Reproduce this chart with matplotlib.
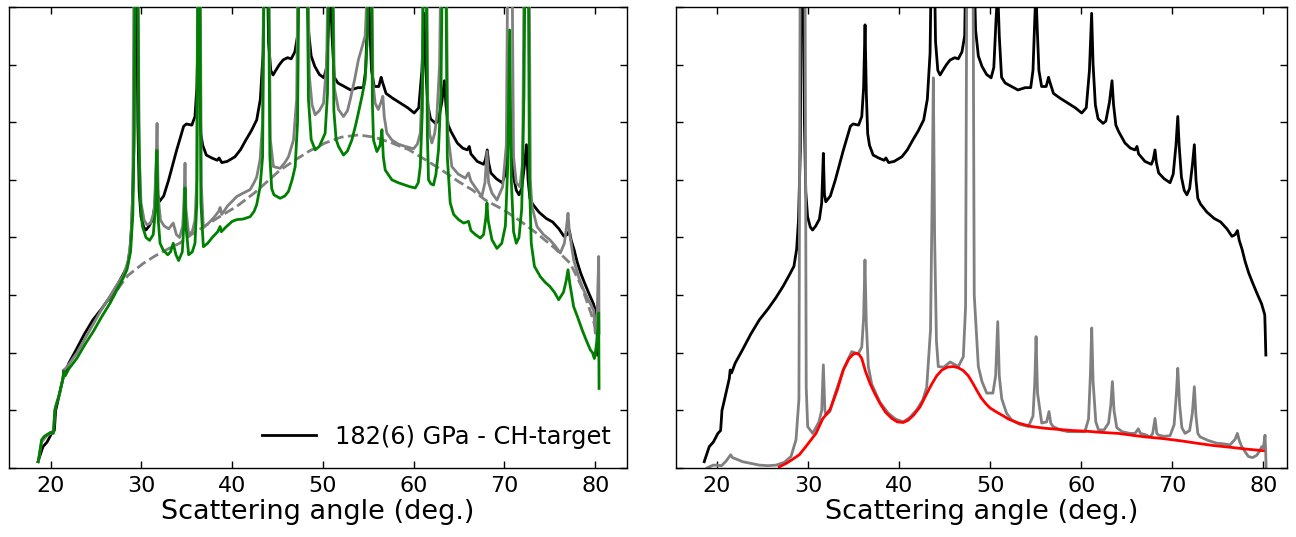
import matplotlib
matplotlib.use("Agg")
import matplotlib.pyplot as plt

# ---- raw pattern (same measurement shown in both panels), black ----
black_x = [18.6, 19.15, 19.6, 20.1, 20.4, 20.55, 20.7, 21.35, 21.45, 21.6, 22.0, 22.8, 23.7, 24.65,
           25.6, 26.45, 27.25, 27.95, 28.45, 28.75, 28.95, 29.15, 29.3, 29.45, 29.6, 29.75, 29.95,
           30.25, 30.5, 30.85, 31.25, 31.5, 31.68, 31.8, 31.95, 32.45, 33.0, 33.85, 34.65, 34.95,
           35.55, 35.9, 36.1, 36.26, 36.4, 36.55, 36.75, 37.15, 37.75, 38.35, 38.55, 38.85, 39.45,
           40.3, 40.9, 41.5, 42.1, 42.7, 43.1, 43.4, 43.6, 43.8, 44.0, 44.25, 44.5, 44.8, 45.2,
           45.6, 46.1, 46.5, 46.9, 47.2, 47.4, 48.1, 48.4, 48.7, 49.1, 49.6, 50.1, 50.4, 50.65,
           50.83, 51.0, 51.25, 51.65, 52.35, 53.05, 53.85, 54.45, 54.7, 54.9, 55.03, 55.15, 55.35,
           55.65, 56.15, 56.41, 56.55, 56.95, 57.65, 58.55, 59.35, 60.05, 60.55, 60.9, 61.14,
           61.3, 61.55, 61.85, 62.4, 62.7, 63.1, 63.38, 63.55, 63.8, 64.1, 64.8, 65.4, 65.9,
           66.12, 66.3, 67.0, 67.7, 67.9, 68.1, 68.25, 68.5, 69.1, 69.75, 70.1, 70.4, 70.6,
           70.75, 71.0, 71.3, 71.6, 71.9, 72.2, 72.42, 72.6, 72.8, 73.1, 73.8, 74.6, 75.3, 76.0,
           76.55, 76.9, 77.15, 77.35, 77.65, 78.0, 78.4, 78.8, 79.3, 79.8, 80.15, 80.2, 80.27]
black_y = [0.11, 0.37, 0.45, 0.6, 0.65, 1.0, 1.1, 1.55, 1.7, 1.65, 1.82, 2.05, 2.32, 2.57,
           2.76, 2.95, 3.15, 3.35, 3.5, 3.8, 4.3, 5.5, 9.5, 9.5, 6.0, 4.8, 4.36,
           4.18, 4.13, 4.2, 4.32, 4.6, 5.46, 4.75, 4.62, 4.72, 5.0, 5.5, 5.93, 5.97,
           5.95, 6.1, 6.6, 7.69, 6.5, 5.8, 5.6, 5.43, 5.38, 5.34, 5.38, 5.3, 5.32,
           5.4, 5.52, 5.69, 5.85, 6.04, 6.4, 7.2, 9.5, 9.5, 7.4, 6.9, 6.82, 6.9, 7.0,
           7.08, 7.12, 7.1, 7.22, 7.5, 9.5, 9.5, 7.6, 7.15, 6.97, 6.83, 6.77, 6.95, 7.8,
           8.3, 7.5, 6.78, 6.68, 6.62, 6.56, 6.6, 6.6, 6.9, 7.8, 8.3, 7.7, 6.9,
           6.62, 6.62, 6.78, 6.7, 6.5, 6.42, 6.33, 6.25, 6.16, 6.25, 6.9, 7.89,
           7.0, 6.3, 6.06, 5.98, 6.02, 6.35, 6.72, 6.3, 5.95, 5.84, 5.64, 5.55, 5.52,
           5.58, 5.45, 5.32, 5.27, 5.35, 5.52, 5.3, 5.12, 5.02, 4.95, 5.1, 5.6, 6.1,
           5.6, 5.05, 4.82, 4.74, 4.85, 5.25, 5.61, 5.0, 4.68, 4.58, 4.44, 4.33, 4.27, 4.15,
           4.02, 4.05, 4.12, 3.95, 3.8, 3.58, 3.38, 3.22, 3.03, 2.85, 2.66, 2.4, 1.96]

# ---- left panel: second pattern (grey) and corrected pattern (green) ----
grey_x = [18.63, 19.0, 19.5, 20.0, 20.3, 20.5, 21.0, 21.4, 21.5, 22.0, 22.9, 23.8, 24.7, 25.6,
          26.54, 27.3, 28.0, 28.56, 28.85, 29.05, 29.2, 29.6, 29.75, 29.95, 30.3, 30.6, 31.0,
          31.4, 31.6, 31.72, 31.85, 32.1, 32.5, 33.0, 33.5, 33.85, 34.2, 34.55, 34.7, 34.8,
          34.9, 35.2, 35.6, 35.9, 36.1, 36.2, 36.45, 36.6, 36.82, 37.4, 38.0, 38.5, 38.67,
          38.85, 39.5, 40.5, 41.2, 41.97, 42.4, 42.7, 43.07, 43.35, 43.5, 44.0, 44.2, 44.54,
          45.28, 45.8, 46.2, 46.75, 47.1, 47.3, 48.3, 48.5, 48.8, 49.14, 49.6, 50.06, 50.4,
          50.65, 51.05, 51.25, 51.71, 52.26, 52.7, 53.0, 53.5, 53.9, 54.3, 54.65, 54.85, 54.95,
          55.35, 55.5, 55.75, 56.1, 56.4, 56.6, 56.75, 57.04, 57.6, 58.3, 59.06, 59.98, 60.4,
          60.72, 60.95, 61.05, 61.4, 61.55, 61.75, 62.0, 62.3, 62.55, 62.85, 63.05, 63.55,
          63.75, 64.2, 64.9, 65.68, 66.04, 66.3, 66.6, 67.0, 67.5, 67.85, 68.07, 68.25, 68.62,
          69.17, 69.8, 70.2, 70.4, 70.8, 71.0, 71.3, 71.7, 72.0, 72.2, 72.7, 72.85, 73.03,
          73.58, 74.3, 75.0, 75.6, 76.15, 76.6, 76.85, 77.0, 77.15, 77.62, 78.2, 78.72, 79.3,
          79.82, 80.0, 80.2, 80.38, 80.42]
grey_y = [0.11, 0.45, 0.55, 0.6, 0.65, 1.05, 1.3, 1.6, 1.7, 1.8, 2.0, 2.25, 2.5, 2.75,
          2.98, 3.18, 3.34, 3.61, 4.0, 4.8, 9.5, 9.5, 5.5, 4.6, 4.3, 4.22, 4.25,
          4.45, 5.2, 5.98, 4.7, 4.3, 4.2, 4.15, 4.25, 4.05, 4.0, 4.2, 4.7, 5.29,
          4.5, 4.06, 4.1, 4.3, 5.0, 9.5, 9.5, 4.9, 4.17, 4.25, 4.35, 4.45, 4.52,
          4.4, 4.55, 4.71, 4.77, 4.83, 4.95, 5.05, 5.35, 6.0, 9.5, 9.5, 5.7, 5.23,
          5.2, 5.3, 5.4, 5.69, 6.4, 9.5, 9.5, 6.8, 6.3, 6.13, 6.2, 6.33, 7.0,
          9.5, 9.5, 6.6, 6.22, 6.1, 6.2, 6.39, 6.75, 7.08, 7.3, 7.5, 8.2, 9.5,
          9.5, 6.7, 6.33, 6.22, 6.35, 6.45, 6.1, 5.81, 5.69, 5.62, 5.58, 5.54, 5.62,
          5.81, 6.7, 9.5, 9.5, 6.4, 5.8, 5.64, 5.8, 6.1, 7.0, 9.5, 9.5,
          5.8, 5.23, 5.1, 5.03, 5.12, 4.98, 4.91, 4.82, 4.71, 4.95, 5.49, 4.95, 4.77,
          4.65, 4.88, 5.6, 9.5, 9.5, 5.4, 4.95, 4.88, 5.3, 9.5, 9.5, 5.0, 4.54,
          4.19, 4.05, 3.96, 3.85, 3.73, 3.9, 4.2, 4.42, 4.1, 3.61, 3.3, 3.09, 2.9,
          2.74, 2.34, 2.6, 3.67, 2.34]

green_x = [18.63, 19.0, 19.3, 19.6, 20.0, 20.3, 20.45, 20.9, 21.35, 21.45, 21.6, 22.0, 22.87,
           23.8, 24.7, 25.6, 26.54, 27.4, 28.0, 28.4, 28.8, 29.05, 29.2, 29.3, 29.55, 29.7,
           29.85, 30.1, 30.5, 30.9, 31.3, 31.55, 31.7, 31.85, 32.05, 32.4, 32.9, 33.2, 33.5,
           33.8, 34.1, 34.5, 34.7, 34.8, 34.9, 35.2, 35.6, 35.9, 36.1, 36.25, 36.4, 36.55,
           36.82, 37.3, 37.8, 38.4, 38.67, 38.8, 39.3, 40.0, 40.5, 41.2, 41.97, 42.4, 42.7,
           43.07, 43.35, 43.55, 43.95, 44.15, 44.35, 44.6, 45.28, 45.8, 46.2, 46.6, 46.94,
           47.2, 47.4, 48.2, 48.4, 48.7, 49.14, 49.6, 50.24, 50.5, 50.7, 51.0, 51.2, 51.45,
           51.71, 52.26, 52.7, 53.18, 53.6, 53.9, 54.3, 54.65, 54.9, 55.05, 55.3, 55.45,
           55.57, 55.94, 56.3, 56.5, 56.65, 56.86, 57.6, 58.3, 59.06, 59.6, 60.17, 60.5,
           60.72, 60.95, 61.1, 61.35, 61.5, 61.63, 61.9, 62.18, 62.45, 62.73, 63.0, 63.2,
           63.5, 63.7, 64.02, 64.4, 64.94, 65.5, 66.04, 66.3, 66.8, 67.33, 67.7, 67.95,
           68.07, 68.2, 68.62, 69.17, 69.7, 70.1, 70.35, 70.57, 70.75, 71.0, 71.3, 71.6,
           71.9, 72.15, 72.3, 72.6, 72.75, 72.95, 73.3, 73.95, 74.5, 75.0, 75.5, 75.97,
           76.5, 76.8, 77.0, 77.2, 77.62, 78.1, 78.55, 79.0, 79.46, 79.7, 79.9, 80.1,
           80.3, 80.38, 80.42]
green_y = [0.11, 0.49, 0.55, 0.58, 0.62, 0.6, 1.0, 1.25, 1.55, 1.68, 1.6, 1.72, 1.9,
           2.15, 2.37, 2.62, 2.86, 3.12, 3.3, 3.44, 3.75, 4.4, 5.8, 9.5, 9.5, 6.0,
           4.7, 4.2, 4.0, 3.95, 4.05, 4.5, 5.51, 4.3, 3.9, 3.78, 3.7, 3.75, 3.9,
           3.7, 3.6, 3.75, 4.3, 4.86, 4.2, 3.7, 3.75, 3.9, 4.6, 9.5, 9.5, 4.6,
           3.84, 3.9, 4.0, 4.1, 4.19, 4.1, 4.18, 4.28, 4.31, 4.32, 4.36, 4.45, 4.57,
           4.88, 5.4, 9.5, 9.5, 5.4, 4.85, 4.74, 4.68, 4.72, 4.8, 5.0, 5.23,
           6.0, 9.5, 9.5, 6.4, 5.7, 5.52, 5.58, 5.81, 6.5, 9.5, 9.5, 6.2, 5.7,
           5.58, 5.43, 5.5, 5.69, 5.95, 6.16, 6.45, 6.74, 7.5, 9.5, 9.5, 6.3,
           5.69, 5.49, 5.6, 5.87, 5.4, 5.17, 5.0, 4.95, 4.91, 4.88, 4.86, 4.95,
           5.23, 6.2, 9.5, 9.5, 5.8, 5.0, 4.93, 4.91, 5.1, 5.52, 6.5, 9.5,
           9.5, 5.4, 4.6, 4.4, 4.31, 4.25, 4.28, 4.12, 4.05, 3.99, 4.05, 4.35,
           4.6, 4.3, 3.96, 3.81, 3.9, 4.2, 5.2, 7.6, 5.0, 4.1, 3.9, 4.0,
           4.5, 6.5, 9.5, 9.5, 5.0, 3.9, 3.5, 3.32, 3.22, 3.15, 3.05, 2.92,
           3.05, 3.25, 3.44, 3.2, 2.8, 2.6, 2.4, 2.22, 2.05, 2.0, 1.9, 2.1,
           2.4, 2.69, 1.38]

# dashed background estimate
bg_x = [26.5, 27.6, 28.5, 30.2, 31.5, 33.15, 34.2, 35.5, 37.0, 38.5, 40.5, 42.5, 45.28, 47.0,
        48.5, 50.24, 52.0, 53.9, 55.7, 57.6, 59.5, 61.27, 63.0, 64.94, 66.5, 67.88, 69.9, 71.8,
        73.58, 75.5, 77.25, 78.5, 79.5, 80.3]
bg_y = [2.88, 3.15, 3.34, 3.55, 3.68, 3.82, 3.9, 4.05, 4.2, 4.35, 4.54, 4.78, 5.17, 5.35,
        5.5, 5.64, 5.74, 5.78, 5.74, 5.64, 5.52, 5.35, 5.18, 4.97, 4.82, 4.65, 4.48, 4.28,
        4.07, 3.82, 3.55, 3.15, 2.7, 2.3]

# ---- right panel: background-subtracted pattern (grey) and its liquid fit (red) ----
sub_x = [18.9, 19.15, 19.6, 20.0, 20.5, 21.0, 21.5, 21.7, 22.2, 22.8, 23.7, 24.65, 25.6, 26.5,
         27.4, 28.13, 28.68, 29.0, 29.15, 29.65, 29.8, 29.96, 30.51, 31.2, 31.5, 31.68, 31.85,
         31.97, 32.4, 33.0, 33.9, 34.8, 35.5, 35.9, 36.1, 36.25, 36.4, 36.62, 37.0, 37.9,
         38.82, 39.6, 40.46, 41.2, 41.93, 42.6, 43.03, 43.45, 43.65, 43.76, 43.9, 44.1, 44.3,
         44.9, 45.6, 46.5, 47.05, 47.3, 47.45, 48.1, 48.25, 48.7, 49.1, 49.62, 50.3, 50.6,
         50.83, 51.0, 51.27, 51.8, 52.37, 53.2, 54.2, 54.7, 54.9, 55.04, 55.2, 55.66, 56.2,
         56.46, 56.65, 56.9, 57.7, 58.58, 59.5, 60.4, 60.8, 61.0, 61.15, 61.3, 61.6, 61.9,
         62.5, 63.0, 63.25, 63.42, 63.6, 63.9, 64.5, 65.36, 65.9, 66.27, 66.5, 67.0, 67.56,
         67.85, 68.1, 68.3, 68.5, 69.1, 69.75, 70.2, 70.45, 70.6, 70.8, 71.05, 71.4, 71.9,
         72.2, 72.42, 72.6, 72.8, 73.05, 73.9, 74.88, 75.6, 76.34, 76.9, 77.14, 77.35, 77.6,
         78.0, 78.35, 78.8, 79.27, 79.6, 79.82, 80.0, 80.18, 80.25, 80.3]
sub_y = [0.0, 0.02, 0.05, 0.05, 0.04, 0.12, 0.23, 0.18, 0.15, 0.11, 0.08, 0.05, 0.04, 0.05,
         0.1, 0.2, 0.49, 1.2, 9.5, 9.5, 1.4, 0.72, 0.6, 0.8, 1.0, 1.79, 1.0,
         0.92, 0.98, 1.3, 1.72, 2.02, 1.98, 2.1, 2.6, 3.61, 2.5, 1.76, 1.45, 1.14,
         0.95, 0.85, 0.8, 0.88, 1.01, 1.18, 1.4, 2.4, 5.0, 6.77, 4.0, 2.2, 1.76,
         1.75, 1.84, 1.76, 1.93, 2.8, 9.5, 9.5, 3.0, 1.76, 1.5, 1.3, 1.3, 1.6,
         2.54, 1.6, 1.2, 0.95, 0.83, 0.76, 0.72, 0.9, 1.5, 2.28, 1.3, 0.78, 0.8,
         0.98, 0.78, 0.72, 0.66, 0.63, 0.63, 0.63, 0.85, 1.6, 2.43, 1.5, 0.8, 0.66,
         0.66, 0.78, 1.1, 1.5, 1.0, 0.7, 0.63, 0.6, 0.6, 0.68, 0.6, 0.58, 0.54,
         0.6, 0.86, 0.6, 0.57, 0.55, 0.56, 0.75, 1.3, 1.73, 1.1, 0.7, 0.6, 0.65,
         0.95, 1.41, 0.9, 0.6, 0.54, 0.48, 0.43, 0.42, 0.4, 0.5, 0.6, 0.48, 0.38,
         0.28, 0.2, 0.18, 0.22, 0.3, 0.37, 0.35, 0.57, 0.3, 0.0]

fit_x = [26.84, 27.6, 28.3, 29.04, 29.8, 30.87, 31.6, 32.43, 33.2, 33.87, 34.5, 35.0, 35.34,
         35.6, 35.9, 36.3, 36.8, 37.3, 37.9, 38.5, 39.2, 39.8, 40.46, 41.0, 41.6, 42.3, 43.0,
         43.6, 44.13, 44.7, 45.3, 45.95, 46.5, 47.05, 47.6, 48.1, 48.52, 49.0, 49.5, 50.0,
         50.6, 51.27, 52.0, 53.09, 54.5, 56.0, 57.5, 59.0, 60.42, 62.0, 64.08, 65.5, 67.0,
         69.02, 71.0, 72.68, 74.5, 76.34, 78.0, 80.0]
fit_y = [0.02, 0.08, 0.15, 0.23, 0.38, 0.6, 0.85, 1.02, 1.35, 1.7, 1.9, 1.98, 1.99,
         1.97, 1.9, 1.68, 1.47, 1.3, 1.12, 0.97, 0.86, 0.8, 0.79, 0.83, 0.92, 1.06, 1.28,
         1.46, 1.6, 1.7, 1.75, 1.76, 1.74, 1.69, 1.6, 1.47, 1.35, 1.22, 1.12, 1.04,
         0.98, 0.92, 0.85, 0.78, 0.72, 0.69, 0.67, 0.65, 0.64, 0.62, 0.6, 0.57, 0.54,
         0.51, 0.47, 0.43, 0.39, 0.36, 0.33, 0.3]

legend_label = "182(6) GPa - CH-target"
x_label = "Scattering angle (deg.)"


def style_axis(ax, xlim):
    ax.set_xlim(*xlim)
    ax.set_ylim(0, 8)
    ax.set_xticks([20, 30, 40, 50, 60, 70, 80])
    ax.set_yticks(range(0, 9))
    ax.tick_params(direction="in", top=True, right=True, labelleft=False,
                   length=5, width=1, labelsize=16, pad=6)
    ax.set_xlabel(x_label, fontsize=19.5, labelpad=2)
    for s in ax.spines.values():
        s.set_linewidth(1.0)


fig = plt.figure(figsize=(12.96, 5.37), dpi=100)
ax1 = fig.add_axes([0.0069, 0.1285, 0.4769, 0.8585])
ax2 = fig.add_axes([0.5216, 0.1285, 0.4715, 0.8585])

# left panel
ax1.plot(bg_x, bg_y, color="grey", lw=2, ls="--", zorder=1)
ax1.plot(black_x, black_y, color="black", lw=2, zorder=2, label=legend_label)
ax1.plot(grey_x, grey_y, color="grey", lw=2, zorder=3)
ax1.plot(green_x, green_y, color="green", lw=2, zorder=4)
style_axis(ax1, (15.4, 83.5))
ax1.legend(loc="lower right", frameon=False, fontsize=17.4, handlelength=2.2,
           borderaxespad=0.4, bbox_to_anchor=(1.005, 0.0))

# right panel
ax2.plot(black_x, black_y, color="black", lw=2)
ax2.plot(sub_x, sub_y, color="grey", lw=2)
ax2.plot(fit_x, fit_y, color="red", lw=2)
style_axis(ax2, (15.5, 82.6))

fig.savefig("out.png", dpi=100)
